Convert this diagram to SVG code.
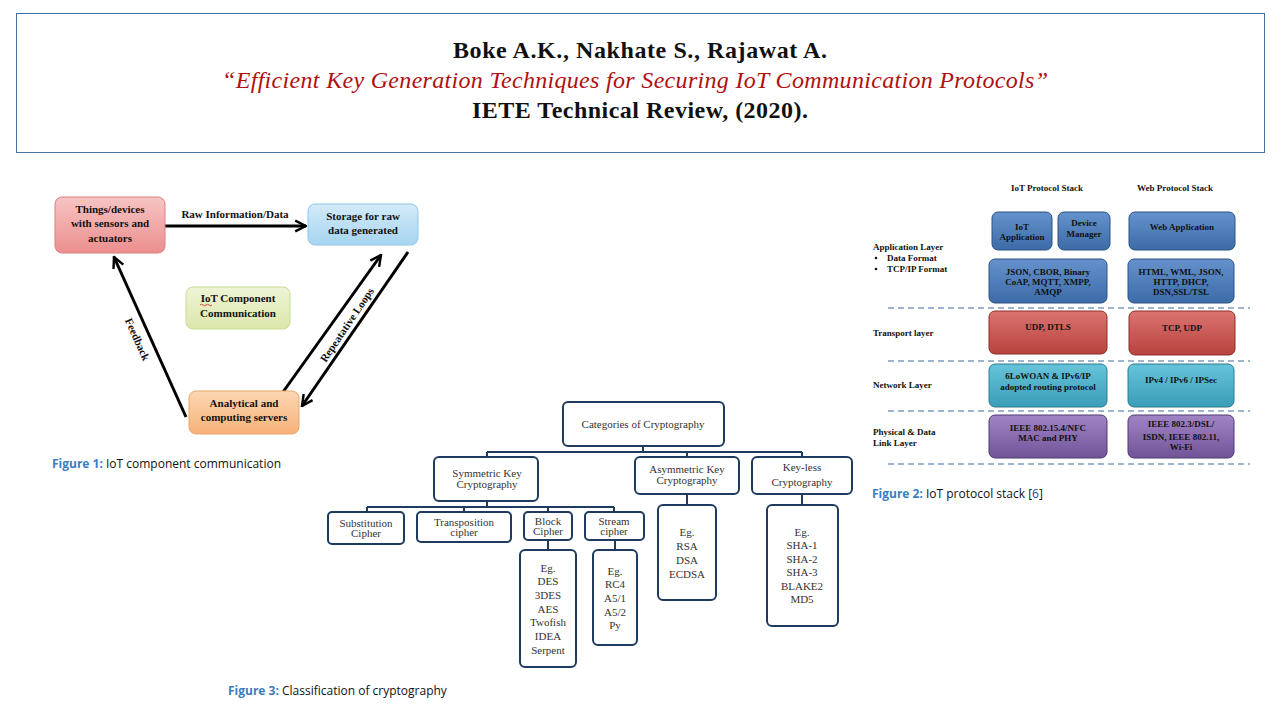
<svg xmlns="http://www.w3.org/2000/svg" width="1280" height="720" viewBox="0 0 1280 720">
<defs>
<style>
.title{font-family:"Liberation Serif",serif;font-size:24px;text-anchor:middle}
.f1{font-family:"Liberation Serif",serif;font-weight:bold;font-size:11px;fill:#111;text-anchor:middle}
.f2{font-family:"Liberation Serif",serif;font-weight:bold;font-size:9px;fill:#111;text-anchor:middle}
.f2l{font-family:"Liberation Serif",serif;font-weight:bold;font-size:9px;fill:#111}
.f3{font-family:"Liberation Serif",serif;font-size:11px;fill:#333;text-anchor:middle}
.cap{font-family:"Open Sans","Liberation Sans",sans-serif;font-size:12px;fill:#111}
.capb{fill:#3a7ebf;font-weight:bold}
.box3{fill:#fff;stroke:#1f3a5f;stroke-width:2}
.con3{stroke:#1f3a5f;stroke-width:2;fill:none}
.arr{stroke:#000;stroke-width:3;fill:none;marker-end:url(#chev)}
.dash{stroke:#7f9cc0;stroke-width:1.5;stroke-dasharray:6 4}
</style>
<marker id="chev" viewBox="0 0 10 10" refX="9" refY="5" markerWidth="4.5" markerHeight="4.5" orient="auto" markerUnits="strokeWidth">
<path d="M1,1 L9,5 L1,9" fill="none" stroke="#000" stroke-width="1.8"/>
</marker>
<linearGradient id="gPink" x1="0" y1="0" x2="0" y2="1"><stop offset="0" stop-color="#f7c4c4"/><stop offset="1" stop-color="#ec8e8e"/></linearGradient>
<linearGradient id="gBlueL" x1="0" y1="0" x2="0" y2="1"><stop offset="0" stop-color="#d3ebf9"/><stop offset="1" stop-color="#a6d4f0"/></linearGradient>
<linearGradient id="gGreen" x1="0" y1="0" x2="0" y2="1"><stop offset="0" stop-color="#eef4d6"/><stop offset="1" stop-color="#dbe7ac"/></linearGradient>
<linearGradient id="gOrange" x1="0" y1="0" x2="0" y2="1"><stop offset="0" stop-color="#fcd7b3"/><stop offset="1" stop-color="#f7b27a"/></linearGradient>
<linearGradient id="gB" x1="0" y1="0" x2="0" y2="1"><stop offset="0" stop-color="#6592cc"/><stop offset="1" stop-color="#3c6ba8"/></linearGradient>
<linearGradient id="gR" x1="0" y1="0" x2="0" y2="1"><stop offset="0" stop-color="#db7470"/><stop offset="1" stop-color="#b8423e"/></linearGradient>
<linearGradient id="gT" x1="0" y1="0" x2="0" y2="1"><stop offset="0" stop-color="#66c4da"/><stop offset="1" stop-color="#3b9db8"/></linearGradient>
<linearGradient id="gP" x1="0" y1="0" x2="0" y2="1"><stop offset="0" stop-color="#a084c4"/><stop offset="1" stop-color="#715498"/></linearGradient>
</defs>
<rect width="1280" height="720" fill="#fff"/>

<!-- Title -->
<g id="title">
<rect x="16.5" y="13.5" width="1248" height="139" fill="#fff" stroke="#41719c" stroke-width="1"/>
<text class="title" x="640" y="58" font-weight="bold" fill="#111" textLength="374">Boke A.K., Nakhate S., Rajawat A.</text>
<text class="title" x="635" y="88" font-style="italic" fill="#b01010" textLength="826">“Efficient Key Generation Techniques for Securing IoT Communication Protocols”</text>
<text class="title" x="640" y="118" font-weight="bold" fill="#111" textLength="336">IETE Technical Review, (2020).</text>
</g>

<!-- Figure 1 -->
<g id="fig1-connectors">
<line class="arr" x1="165" y1="226" x2="306" y2="226"/>
<line class="arr" x1="186" y1="417" x2="114" y2="257"/>
<line class="arr" x1="283" y1="392" x2="381" y2="255"/>
<line class="arr" x1="408" y1="252" x2="302" y2="406"/>
<text class="f1" x="235" y="218">Raw Information/Data</text>
<text class="f1" transform="translate(134,341) rotate(66)">Feedback</text>
<text class="f1" transform="translate(350,327) rotate(-56)">Repeatative Loops</text>
</g>
<g id="things">
<rect x="55" y="197" width="110" height="56" rx="7" fill="url(#gPink)" stroke="#d98080" stroke-width="1"/>
<text class="f1" x="110" y="213">Things/devices</text>
<text class="f1" x="110" y="227">with sensors and</text>
<text class="f1" x="110" y="242">actuators</text>
</g>
<g id="storage">
<rect x="308" y="204" width="110" height="41" rx="7" fill="url(#gBlueL)" stroke="#90c6e8" stroke-width="1"/>
<text class="f1" x="363" y="220">Storage for raw</text>
<text class="f1" x="363" y="234">data generated</text>
</g>
<g id="iotcomp">
<rect x="186" y="287" width="104" height="42" rx="7" fill="url(#gGreen)" stroke="#c8da94" stroke-width="1"/>
<text class="f1" x="238" y="302">IoT Component</text>
<text class="f1" x="238" y="317">Communication</text>
<path d="M200,305 q1.5,-1.5 3,0 t3,0 t3,0 t3,0" stroke="#d02020" stroke-width="0.8" fill="none"/>
</g>
<g id="analytical">
<rect x="189" y="391" width="110" height="43" rx="7" fill="url(#gOrange)" stroke="#e8a668" stroke-width="1"/>
<text class="f1" x="244" y="407">Analytical and</text>
<text class="f1" x="244" y="421">computing servers</text>
</g>
<text class="cap" x="52" y="468" font-size="12.5"><tspan class="capb">Figure 1:</tspan> IoT component communication</text>

<!-- Figure 2 -->
<g id="fig2-labels">
<text class="f2" x="1047" y="191">IoT Protocol Stack</text>
<text class="f2" x="1175" y="191">Web Protocol Stack</text>
<text class="f2l" x="873" y="250">Application Layer</text>
<circle cx="876" cy="258" r="1.3" fill="#111"/>
<text class="f2l" x="887" y="261">Data Format</text>
<circle cx="876" cy="269" r="1.3" fill="#111"/>
<text class="f2l" x="887" y="272">TCP/IP Format</text>
<text class="f2l" x="873" y="336">Transport layer</text>
<text class="f2l" x="873" y="388">Network Layer</text>
<text class="f2l" x="873" y="435">Physical &amp; Data</text>
<text class="f2l" x="873" y="446">Link Layer</text>
</g>
<g id="fig2-dividers">
<line class="dash" x1="888" y1="308" x2="1250" y2="308"/>
<line class="dash" x1="888" y1="361" x2="1250" y2="361"/>
<line class="dash" x1="888" y1="411" x2="1250" y2="411"/>
<line class="dash" x1="888" y1="464" x2="1250" y2="464"/>
</g>
<g id="iot-app">
<rect x="992" y="212" width="60" height="38" rx="6" fill="url(#gB)" stroke="#2c5282"/>
<text class="f2" x="1022" y="230">IoT</text>
<text class="f2" x="1022" y="240">Application</text>
</g>
<g id="device-mgr">
<rect x="1058" y="212" width="52" height="38" rx="6" fill="url(#gB)" stroke="#2c5282"/>
<text class="f2" x="1084" y="226">Device</text>
<text class="f2" x="1084" y="237">Manager</text>
</g>
<g id="web-app">
<rect x="1129" y="212" width="106" height="38" rx="6" fill="url(#gB)" stroke="#2c5282"/>
<text class="f2" x="1182" y="230" font-size="10">Web Application</text>
</g>
<g id="iot-data">
<rect x="989" y="259" width="118" height="44" rx="6" fill="url(#gB)" stroke="#2c5282"/>
<text class="f2" x="1048" y="275">JSON, CBOR, Binary</text>
<text class="f2" x="1048" y="285">CoAP, MQTT, XMPP,</text>
<text class="f2" x="1048" y="295">AMQP</text>
</g>
<g id="web-data">
<rect x="1128" y="259" width="106" height="44" rx="6" fill="url(#gB)" stroke="#2c5282"/>
<text class="f2" x="1181" y="275">HTML, WML, JSON,</text>
<text class="f2" x="1181" y="285">HTTP, DHCP,</text>
<text class="f2" x="1181" y="295">DSN,SSL/TSL</text>
</g>
<g id="iot-transport">
<rect x="989" y="311" width="118" height="43" rx="6" fill="url(#gR)" stroke="#8c2d2a"/>
<text class="f2" x="1048" y="330">UDP, DTLS</text>
</g>
<g id="web-transport">
<rect x="1129" y="311" width="106" height="44" rx="6" fill="url(#gR)" stroke="#8c2d2a"/>
<text class="f2" x="1182" y="331">TCP, UDP</text>
</g>
<g id="iot-network">
<rect x="989" y="364" width="118" height="43" rx="6" fill="url(#gT)" stroke="#2c7a90"/>
<text class="f2" x="1048" y="379">6LoWOAN &amp; IPv6/IP</text>
<text class="f2" x="1048" y="390">adopted routing protocol</text>
</g>
<g id="web-network">
<rect x="1128" y="364" width="106" height="43" rx="6" fill="url(#gT)" stroke="#2c7a90"/>
<text class="f2" x="1181" y="383">IPv4 / IPv6 / IPSec</text>
</g>
<g id="iot-phy">
<rect x="989" y="415" width="118" height="43" rx="6" fill="url(#gP)" stroke="#4f3a6e"/>
<text class="f2" x="1048" y="431">IEEE 802.15.4/NFC</text>
<text class="f2" x="1048" y="441">MAC and PHY</text>
</g>
<g id="web-phy">
<rect x="1128" y="415" width="106" height="43" rx="6" fill="url(#gP)" stroke="#4f3a6e"/>
<text class="f2" x="1181" y="427">IEEE 802.3/DSL/</text>
<text class="f2" x="1181" y="440">ISDN, IEEE 802.11,</text>
<text class="f2" x="1181" y="450">Wi-Fi</text>
</g>
<text class="cap" x="872" y="498" font-size="12.5"><tspan class="capb">Figure 2:</tspan> IoT protocol stack [<tspan fill="#2a3f9a">6</tspan>]</text>

<!-- Figure 3 -->
<g id="fig3-connectors">
<path class="con3" d="M643,446 V452 M487,452 H802 M487,452 V457 M687,452 V457 M802,452 V457"/>
<path class="con3" d="M487,501 V507 M367,507 H614 M367,507 V512 M464,507 V512 M548,507 V512 M614,507 V512"/>
<path class="con3" d="M548,540 V550 M615,540 V550 M687,494 V505 M802,494 V505"/>
</g>
<g id="categories">
<rect class="box3" x="563" y="402" width="161" height="44" rx="5"/>
<text class="f3" x="643" y="428">Categories of Cryptography</text>
</g>
<g id="symmetric">
<rect class="box3" x="434" y="457" width="104" height="44" rx="5"/>
<text class="f3" x="487" y="477">Symmetric Key</text>
<text class="f3" x="487" y="488">Cryptography</text>
</g>
<g id="asymmetric">
<rect class="box3" x="635" y="457" width="104" height="37" rx="5"/>
<text class="f3" x="687" y="473">Asymmetric Key</text>
<text class="f3" x="687" y="484">Cryptography</text>
</g>
<g id="keyless">
<rect class="box3" x="752" y="457" width="100" height="37" rx="5"/>
<text class="f3" x="802" y="471">Key-less</text>
<text class="f3" x="802" y="486">Cryptography</text>
</g>
<g id="substitution">
<rect class="box3" x="328" y="512" width="76" height="32" rx="4"/>
<text class="f3" x="366" y="527">Substitution</text>
<text class="f3" x="366" y="537">Cipher</text>
</g>
<g id="transposition">
<rect class="box3" x="417" y="512" width="94" height="30" rx="4"/>
<text class="f3" x="464" y="526">Transposition</text>
<text class="f3" x="464" y="536">cipher</text>
</g>
<g id="block">
<rect class="box3" x="524" y="512" width="48" height="28" rx="4"/>
<text class="f3" x="548" y="525">Block</text>
<text class="f3" x="548" y="535">Cipher</text>
</g>
<g id="stream">
<rect class="box3" x="585" y="512" width="59" height="28" rx="4"/>
<text class="f3" x="614" y="525">Stream</text>
<text class="f3" x="614" y="535">cipher</text>
</g>
<g id="block-eg">
<rect class="box3" x="520" y="550" width="56" height="117" rx="5"/>
<text class="f3" x="548" y="572">Eg.</text>
<text class="f3" x="548" y="585">DES</text>
<text class="f3" x="548" y="599">3DES</text>
<text class="f3" x="548" y="613">AES</text>
<text class="f3" x="548" y="626">Twofish</text>
<text class="f3" x="548" y="640">IDEA</text>
<text class="f3" x="548" y="654">Serpent</text>
</g>
<g id="stream-eg">
<rect class="box3" x="593" y="550" width="44" height="95" rx="5"/>
<text class="f3" x="615" y="575">Eg.</text>
<text class="f3" x="615" y="588">RC4</text>
<text class="f3" x="615" y="602">A5/1</text>
<text class="f3" x="615" y="616">A5/2</text>
<text class="f3" x="615" y="629">Py</text>
</g>
<g id="asym-eg">
<rect class="box3" x="658" y="505" width="58" height="95" rx="5"/>
<text class="f3" x="687" y="536">Eg.</text>
<text class="f3" x="687" y="550">RSA</text>
<text class="f3" x="687" y="564">DSA</text>
<text class="f3" x="687" y="578">ECDSA</text>
</g>
<g id="keyless-eg">
<rect class="box3" x="767" y="505" width="71" height="121" rx="5"/>
<text class="f3" x="802" y="536">Eg.</text>
<text class="f3" x="802" y="549">SHA-1</text>
<text class="f3" x="802" y="563">SHA-2</text>
<text class="f3" x="802" y="576">SHA-3</text>
<text class="f3" x="802" y="590">BLAKE2</text>
<text class="f3" x="802" y="603">MD5</text>
</g>
<text class="cap" x="228" y="695"><tspan class="capb">Figure 3:</tspan> Classification of cryptography</text>
</svg>
